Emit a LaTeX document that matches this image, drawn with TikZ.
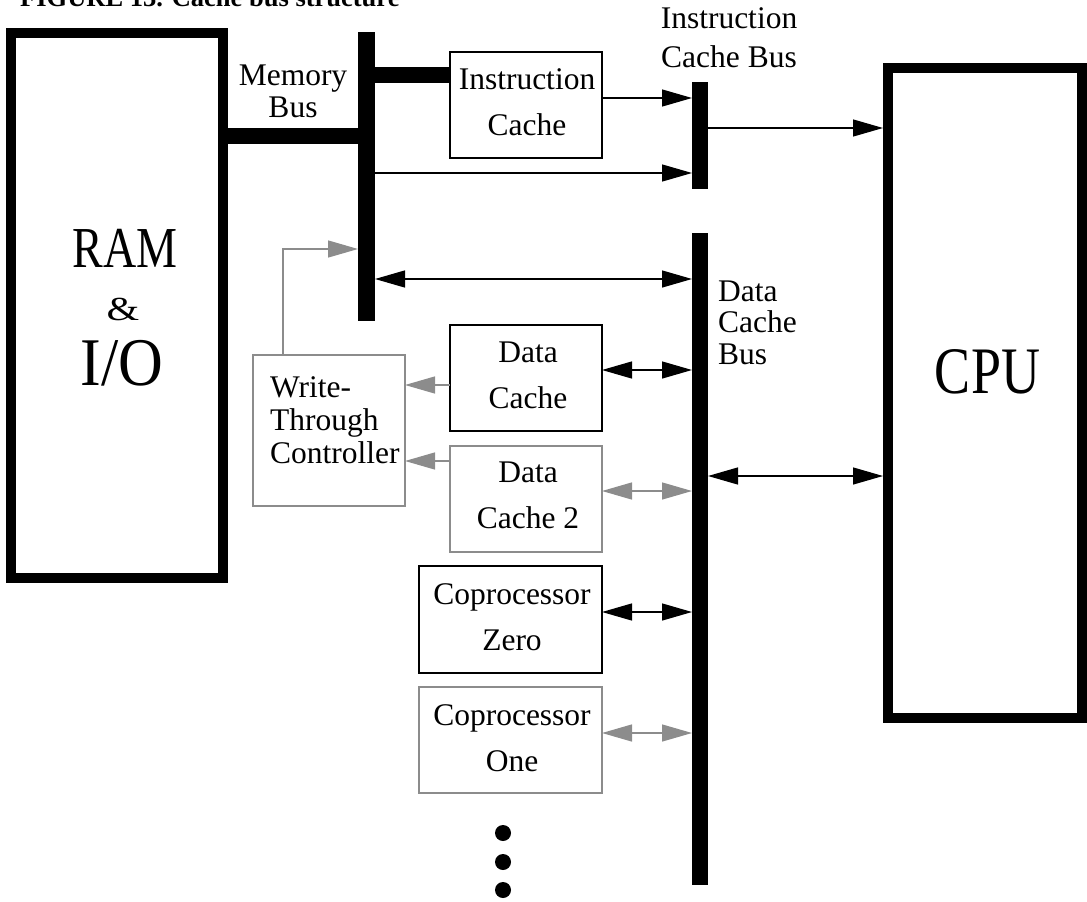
\documentclass[tikz,border=0pt]{standalone}
\usepackage{fontspec}
\setmainfont{Liberation Serif}
\usetikzlibrary{arrows.meta}
\definecolor{gline}{HTML}{8C8C8C}
\begin{document}
\begin{tikzpicture}[x=1pt,y=-1pt,
  bigbox/.style={draw, line width=10pt, inner sep=0pt},
  box/.style={draw, line width=1.4pt, inner sep=0pt, outer sep=0pt},
  gbox/.style={box, draw=gline},
  bus/.style={fill=black, inner sep=0pt, outer sep=0pt, minimum width=17pt},
  fat/.style={line width=16pt},
  arr/.style={line width=1.3pt, -{Triangle[length=30pt,width=17pt]}},
  darr/.style={line width=1.3pt, {Triangle[length=30pt,width=17pt]}-{Triangle[length=30pt,width=17pt]}},
  garr/.style={arr, draw=gline},
  gdarr/.style={darr, draw=gline},
  txt/.style={inner sep=0pt, font=\fontsize{31.5}{46}\selectfont, align=center, anchor=base},
  dot/.style={circle, fill=black, minimum size=16pt, inner sep=0pt}
]
\useasboundingbox (0,0) rectangle (1087,902);

% title
\node[inner sep=0pt, anchor=base west, font=\fontsize{26.5}{30}\selectfont\bfseries] (title) at (20,6.5) {FIGURE 13. Cache bus structure};

% big boxes
\node[bigbox, minimum width=212pt, minimum height=545pt] (ram) at (117,305.5) {};
\node[bigbox, minimum width=194pt, minimum height=650pt] (cpu) at (985,393) {};

% buses
\node[bus, minimum height=289pt] (mb) at (366.5,176.5) {};
\node[bus, minimum width=16pt, minimum height=107pt] (icb) at (700,135.5) {};
\node[bus, minimum width=16pt, minimum height=652pt] (dcb) at (700,559) {};

% boxes
\node[box, minimum width=152pt, minimum height=106pt] (ic) at (526,105) {};
\node[box, minimum width=152pt, minimum height=106pt] (dc) at (526,378) {};
\node[gbox, minimum width=152pt, minimum height=106pt] (dc2) at (526,499) {};
\node[gbox, minimum width=152pt, minimum height=151pt] (wtc) at (329,430.5) {};
\node[box, minimum width=183pt, minimum height=107pt] (cp0) at (510.5,619.5) {};
\node[gbox, minimum width=183pt, minimum height=106pt] (cp1) at (510.5,740) {};

% dots
\node[dot] (d1) at (503,833) {};
\node[dot] (d2) at (503,862) {};
\node[dot] (d3) at (503,890) {};

% connectors
\draw[fat] (ram.east |- 0,136) -- (mb.west |- 0,136);
\draw[fat] (mb.east |- 0,75) -- (ic.west |- 0,75);
\draw[arr] (ic.east |- 0,98) -- (icb.west |- 0,98);
\draw[arr] (mb.east |- 0,173) -- (icb.west |- 0,173);
\draw[arr] (icb.east |- 0,128) -- (cpu.west |- 0,128);
\draw[darr] (mb.east |- 0,279) -- (dcb.west |- 0,279);
\draw[garr] (wtc.north -| 283,0) |- (mb.west |- 0,249);
\draw[garr] (dc.west |- 0,385) -- (wtc.east |- 0,385);
\draw[garr] (dc2.west |- 0,461) -- (wtc.east |- 0,461);
\draw[darr] (dc.east |- 0,370) -- (dcb.west |- 0,370);
\draw[gdarr] (dc2.east |- 0,491) -- (dcb.west |- 0,491);
\draw[darr] (dcb.east |- 0,476) -- (cpu.west |- 0,476);
\draw[darr] (cp0.east |- 0,612) -- (dcb.west |- 0,612);
\draw[gdarr] (cp1.east |- 0,733) -- (dcb.west |- 0,733);

% labels (anchor=base is the baseline of the last line)
\node[txt, font=\fontsize{31.5}{32}\selectfont] (mbl) at (293,117) {Memory\\Bus};
\node[txt, font=\fontsize{31.5}{39}\selectfont] (icbl) at (729,67) {Instruction\\Cache Bus};
\node[txt, font=\fontsize{31.5}{31.5}\selectfont, align=left, anchor=base west] (dcbl) at (718,364) {Data\\Cache\\Bus};
\node[txt, font=\fontsize{31.5}{33}\selectfont, align=left, anchor=base west] (wtcl) at (270,463) {Write-\\Through\\Controller};
\node[txt] (icl) at (527,135) {Instruction\\Cache};
\node[txt] (dcl) at (528,408) {Data\\Cache};
\node[txt] (dc2l) at (528,528) {Data\\Cache 2};
\node[txt] (cp0l) at (512,650) {Coprocessor\\Zero};
\node[txt] (cp1l) at (512,771) {Coprocessor\\One};

\node[inner sep=0pt, anchor=base] (ramt) at (125,267) {\scalebox{1}[1.26]{\fontsize{46}{50}\selectfont RAM}};
\node[inner sep=0pt, anchor=base] (ampt) at (123,320) {\scalebox{1}[0.8]{\fontsize{42}{46}\selectfont \&}};
\node[inner sep=0pt, anchor=base] (iot) at (122,385) {\scalebox{1}[1.1]{\fontsize{62}{66}\selectfont I/O}};
\node[inner sep=0pt, anchor=base] (cput) at (987.5,393) {\scalebox{1}[1.23]{\fontsize{54}{58}\selectfont CPU}};
\end{tikzpicture}
\end{document}
